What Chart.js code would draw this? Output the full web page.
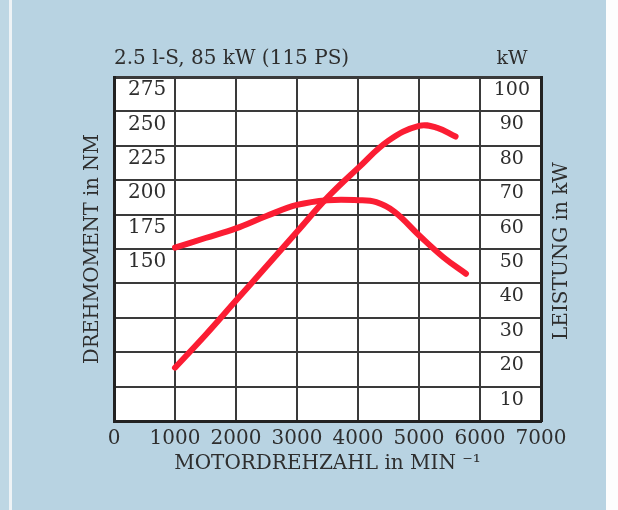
<!DOCTYPE html>
<html>
<head>
<meta charset="utf-8">
<script src="https://cdn.jsdelivr.net/npm/chart.js@4.4.1/dist/chart.umd.min.js"></script>
<style>
  html, body { margin: 0; padding: 0; }
  body { width: 618px; height: 510px; background: #b8d3e2; position: relative; overflow: hidden; }
  .strip-l { position: absolute; left: 0; top: 0; width: 9px; height: 510px; background: #bed7e4; }
  .line-l { position: absolute; left: 9px; top: 0; width: 3px; height: 510px; background: #eef3f6; }
  .strip-r { position: absolute; left: 606px; top: 0; width: 12px; height: 510px; background: #fdfdfd; }
  canvas { position: absolute; left: 0; top: 0; }
</style>
</head>
<body>
<div class="strip-l"></div>
<div class="line-l"></div>
<div class="strip-r"></div>
<canvas id="chart" width="618" height="510"></canvas>
<script>
// Engine chart: torque (Nm, left axis) and power (kW, right axis) vs. rpm.
var rpmTorque = [1000, 1500, 2000, 2500, 3000, 3500, 4000, 4300, 4600, 5000, 5400, 5770];
var torqueNm  = [151, 158, 165, 174, 182, 185.5, 185.5, 184, 177, 160, 144, 132];

var rpmPower  = [1000, 1500, 2000, 2500, 3000, 3500, 4000, 4500, 5000, 5300, 5600];
var powerKw   = [15.5, 25, 35, 45, 55, 65, 73.5, 81.5, 85.8, 85.2, 82.7];

var chartTitle  = "2.5 l-S, 85 kW (115 PS)";
var xTitle      = "MOTORDREHZAHL in MIN \u207B\u00B9";
var yLeftTitle  = "DREHMOMENT in NM";
var yRightTitle = "LEISTUNG in kW";
var yRightUnit  = "kW";

var red   = "#fb1d33";
var ink   = "#2e2e2e";
var gridC = "#3a3a3a";
var serif = "'DejaVu Serif', 'Liberation Serif', serif";

function toPoints(xs, ys) {
  return xs.map(function (x, i) { return { x: x, y: ys[i] }; });
}

// white plot paper + the right-hand labels that read bottom-up
var paper = {
  id: "paper",
  beforeDraw: function (chart) {
    var a = chart.chartArea, ctx = chart.ctx;
    ctx.save();
    ctx.fillStyle = "#ffffff";
    ctx.fillRect(a.left, a.top, a.right - a.left, a.bottom - a.top);
    ctx.restore();
  },
  afterDraw: function (chart) {
    var a = chart.chartArea, ctx = chart.ctx;
    ctx.save();
    ctx.fillStyle = ink;
    ctx.font = "19px " + serif;
    ctx.textAlign = "center";
    ctx.textBaseline = "middle";
    ctx.fillText(yRightUnit, a.right - 29, 59);
    ctx.font = "20px " + serif;
    ctx.translate(a.right + 21, (a.top + a.bottom) / 2 + 2);
    ctx.rotate(-Math.PI / 2);
    ctx.fillText(yRightTitle, 0, 0);
    ctx.restore();
  }
};

new Chart(document.getElementById("chart"), {
  type: "line",
  data: {
    datasets: [
      {
        label: "Drehmoment",
        data: toPoints(rpmTorque, torqueNm),
        yAxisID: "y",
        borderColor: red,
        borderWidth: 6,
        pointRadius: 0,
        tension: 0.4,
        borderCapStyle: "round",
        borderJoinStyle: "round"
      },
      {
        label: "Leistung",
        data: toPoints(rpmPower, powerKw),
        yAxisID: "y1",
        borderColor: red,
        borderWidth: 6,
        pointRadius: 0,
        tension: 0.4,
        borderCapStyle: "round",
        borderJoinStyle: "round"
      }
    ]
  },
  options: {
    responsive: false,
    animation: false,
    layout: { padding: 0 },
    plugins: {
      legend: { display: false },
      tooltip: { enabled: false },
      title: {
        display: true,
        text: chartTitle,
        align: "start",
        fullSize: false,
        color: ink,
        font: { family: serif, size: 20, weight: "normal" },
        padding: { top: 47, bottom: 6 }
      }
    },
    scales: {
      x: {
        type: "linear",
        min: 0,
        max: 7000,
        afterFit: function (s) { s.height = 89; },
        ticks: { stepSize: 1000, color: ink, padding: 6, maxRotation: 0, autoSkip: false,
                 font: { family: serif, size: 20 },
                 callback: function (v) { return String(v); } },
        grid: { color: gridC, lineWidth: 2, drawTicks: false },
        border: { color: "#222", width: 3 },
        title: { display: true, text: xTitle, color: ink, padding: { top: 0, bottom: 34 },
                 font: { family: serif, size: 20 } }
      },
      y: {
        position: "left",
        min: 25,
        max: 275,
        afterFit: function (s) { s.width = 114; },
        ticks: {
          stepSize: 25, mirror: true, crossAlign: "center", padding: 14, labelOffset: 13,
          color: ink, font: { family: serif, size: 20 },
          callback: function (v) { return v >= 150 ? String(v) : ""; }
        },
        grid: {
          color: gridC, drawTicks: false,
          lineWidth: function (c) { return c.tick && c.tick.value === 275 ? 3 : 2; }
        },
        border: { color: "#222", width: 3 },
        title: { display: true, text: yLeftTitle, color: ink, padding: { top: 81, bottom: 0 },
                 font: { family: serif, size: 19.5 } }
      },
      y1: {
        position: "right",
        min: 0,
        max: 100,
        afterFit: function (s) { s.width = 77; },
        ticks: {
          stepSize: 10, mirror: true, crossAlign: "center", padding: -11, labelOffset: 13,
          color: ink, font: { family: serif, size: 19 },
          callback: function (v) { return v >= 10 ? String(v) : ""; }
        },
        grid: { display: false, drawTicks: false },
        border: { color: "#222", width: 3 }
      }
    }
  },
  plugins: [paper]
});
</script>
</body>
</html>
